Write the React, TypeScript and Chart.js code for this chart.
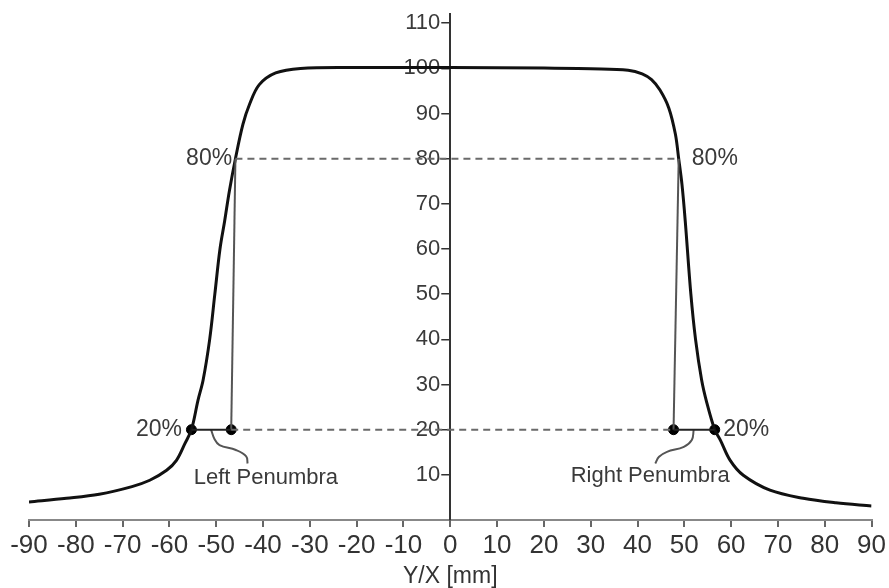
import React, { useEffect, useRef } from "react";
import { Chart, registerables } from "chart.js";

Chart.register(...registerables);

// Beam profile (position in mm, relative dose in %)
const profileX = [-90, -82, -75, -68, -64.2, -60.6, -58.5, -56.7, -55.3, -53.9, -52.8, -51.4, -50.3, -49.2, -48.2, -47.2, -45.9, -44.3, -42.9, -40.8, -37.3, -32, -20, 0, 20, 30, 38, 41, 43, 44.8, 46.7, 48.1, 48.8, 49.5, 50.2, 51.4, 52.4, 53.7, 54.8, 56.5, 57.7, 59.8, 62.6, 68.3, 75.4, 82.4, 90];
const profileY = [4, 4.8, 5.7, 7.4, 8.8, 11, 13.2, 16.9, 20, 26.5, 31, 40, 50, 60, 66.2, 72.8, 80, 87.6, 92, 96.4, 99, 100, 100.2, 100.2, 100.1, 99.9, 99.6, 98.8, 97.5, 95.2, 91.2, 85.4, 80, 74.3, 66.2, 50, 40, 31, 26, 20, 17.7, 13.2, 9.9, 6.6, 4.8, 3.8, 3.1];

// 80% / 20% level points
const level80X = [-45.9, 48.8];
const level20X = [-46.8, 47.7];
const edge20X = [-55.3, 56.5];

// Penumbra label connectors
const leftConnX = [-51.1, -50.4, -49.3, -45.8, -43.6, -43.3];
const leftConnY = [20, 18, 16.6, 15.5, 14.1, 12.5];
const rightConnX = [52, 51.6, 49.9, 46.3, 44.6, 43.8];
const rightConnY = [19.9, 17.7, 16.2, 15.1, 14.0, 12.5];

const xTicks = [-90, -80, -70, -60, -50, -40, -30, -20, -10, 0, 10, 20, 30, 40, 50, 60, 70, 80, 90];
const yTicks = [10, 20, 30, 40, 50, 60, 70, 80, 90, 100, 110];

const annotations = [
  { text: "80%", x: -46.6, y: 80, align: "right", small: false },
  { text: "80%", x: 51.6, y: 80, align: "left", small: false },
  { text: "20%", x: -57.3, y: 20, align: "right", small: false },
  { text: "20%", x: 58.3, y: 20, align: "left", small: false },
  { text: "Left Penumbra", x: -39.4, y: 9.4, align: "center", small: true },
  { text: "Right Penumbra", x: 42.7, y: 9.7, align: "center", small: true },
];

const zip = (xs: number[], ys: number[]) => xs.map((x, i) => ({ x, y: ys[i] }));

const SANS = "'Liberation Sans', Arial, sans-serif";
const Y_LABEL_GAP = 10;

export default function App() {
  const ref = useRef<HTMLCanvasElement | null>(null);
  useEffect(() => {
    if (!ref.current) return;
    const annotationPlugin = {
      id: "annotationText",
      afterDatasetsDraw(chart: any) {
        const ctx = chart.ctx;
        const xs = chart.scales.x;
        const ys = chart.scales.y;
        ctx.save();
        ctx.fillStyle = "#3a3a3a";
        ctx.textBaseline = "middle";
        annotations.forEach((a) => {
          ctx.font = a.small ? `22px ${SANS}` : `23px ${SANS}`;
          ctx.textAlign = a.align as CanvasTextAlign;
          ctx.fillText(a.text, xs.getPixelForValue(a.x), ys.getPixelForValue(a.y));
        });
        ctx.restore();
      },
    };
    const dashed = { borderColor: "#6a6a6a", borderWidth: 2, borderDash: [7, 5], pointRadius: 0, showLine: true, fill: false };
    const chart = new Chart(ref.current, {
      type: "scatter",
      data: {
        datasets: [
          { ...dashed, data: zip(level80X, [80, 80]) },
          { ...dashed, data: zip(level20X, [20, 20]) },
          { data: zip([edge20X[0], level20X[0]], [20, 20]), borderColor: "#222", borderWidth: 2, pointRadius: 0, showLine: true },
          { data: zip([level20X[1], edge20X[1]], [20, 20]), borderColor: "#222", borderWidth: 2, pointRadius: 0, showLine: true },
          { data: zip([level80X[0], level20X[0]], [80, 20]), borderColor: "#555", borderWidth: 2, pointRadius: 0, showLine: true },
          { data: zip([level80X[1], level20X[1]], [80, 20]), borderColor: "#555", borderWidth: 2, pointRadius: 0, showLine: true },
          { data: zip(leftConnX, leftConnY), borderColor: "#555", borderWidth: 2, pointRadius: 0, showLine: true, tension: 0.4 },
          { data: zip(rightConnX, rightConnY), borderColor: "#555", borderWidth: 2, pointRadius: 0, showLine: true, tension: 0.4 },
          {
            data: zip(profileX, profileY),
            borderColor: "#111",
            borderWidth: 3,
            pointRadius: 0,
            showLine: true,
            tension: 0.35,
          },
          {
            data: zip([edge20X[0], level20X[0], level20X[1], edge20X[1]], [20, 20, 20, 20]),
            showLine: false,
            pointRadius: 5,
            pointBackgroundColor: "#000",
            pointBorderColor: "#000",
          },
        ] as any,
      },
      options: {
        animation: false,
        responsive: false,
        devicePixelRatio: 1,
        layout: { padding: { left: 29, right: 13, top: 13, bottom: 0 } },
        plugins: { legend: { display: false }, tooltip: { enabled: false } },
        scales: {
          x: {
            type: "linear",
            position: "bottom",
            min: -90,
            max: 90,
            afterBuildTicks: (s: any) => {
              s.ticks = xTicks.map((v) => ({ value: v }));
            },
            afterFit: (s: any) => {
              s.height = 68;
            },
            border: { color: "#888", width: 2 },
            grid: { drawOnChartArea: false, tickLength: 7, color: "#666", lineWidth: 2 },
            ticks: {
              autoSkip: false,
              maxRotation: 0,
              padding: 3,
              color: "#333",
              font: { family: SANS, size: 26 },
            },
            title: {
              display: true,
              text: "Y/X [mm]",
              color: "#333",
              padding: { top: 7, bottom: -2 },
              font: { family: SANS, size: 23 },
            },
          },
          y: {
            type: "linear",
            position: { x: 0 } as any,
            min: 0,
            max: 112,
            z: 1,
            afterBuildTicks: (s: any) => {
              s.ticks = yTicks.map((v) => ({ value: v }));
            },
            afterUpdate: (s: any) => {
              if (s.__gapPatched) return;
              s.__gapPatched = true;
              const orig = s._computeLabelItems;
              s._computeLabelItems = function (ca: any) {
                const items = orig.call(this, ca);
                items.forEach((it: any) => {
                  const t = it.options.translation;
                  it.options.translation = [t[0] - Y_LABEL_GAP, t[1]];
                });
                return items;
              };
              s._labelItems = null;
            },
            border: { color: "#333", width: 2 },
            grid: { drawOnChartArea: false, tickLength: 9, color: "#333", lineWidth: 1.5 },
            ticks: {
              padding: 1,
              color: "#3a3a3a",
              font: { family: SANS, size: 22 },
              showLabelBackdrop: true,
              backdropColor: "#fff",
              backdropPadding: { top: 1, bottom: 1, left: 3, right: 1 },
            },
          },
        },
      } as any,
      plugins: [annotationPlugin],
    });
    return () => chart.destroy();
  }, []);
  return (
    <div style={{ position: "absolute", left: 0, top: 0, width: 889, height: 588, background: "#fff" }}>
      <canvas ref={ref} width={889} height={588} />
    </div>
  );
}
